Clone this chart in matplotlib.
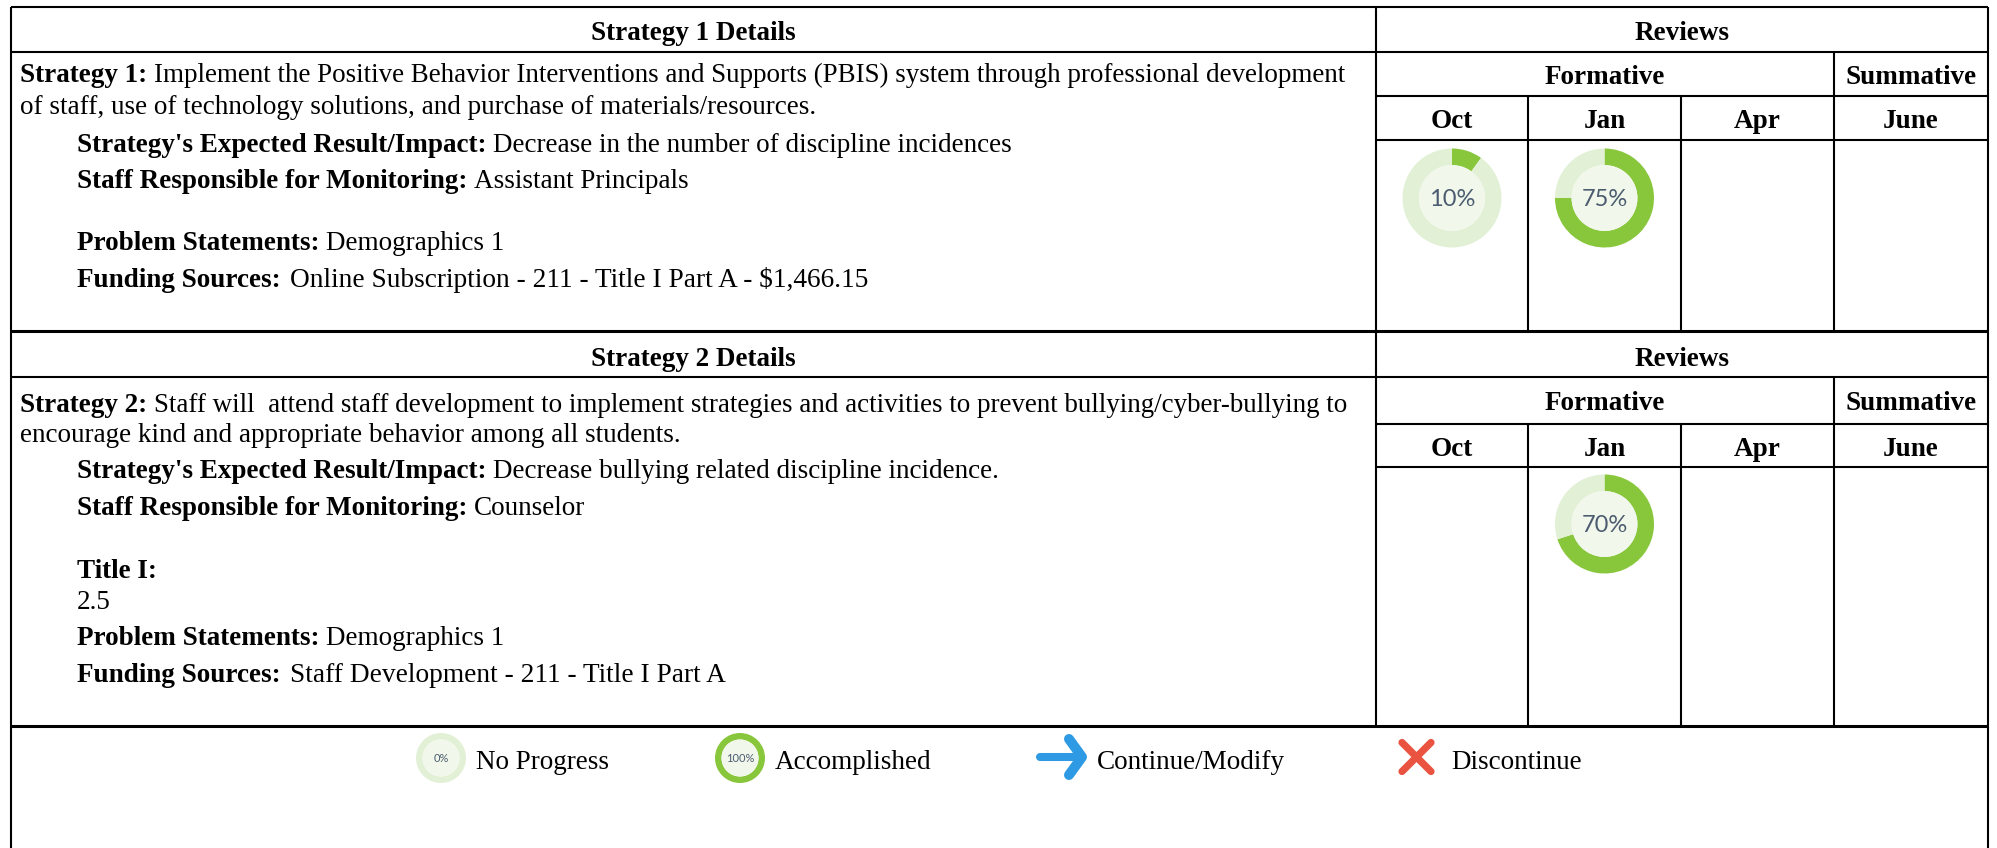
import matplotlib
matplotlib.use("Agg")
import matplotlib.pyplot as plt
from matplotlib.patches import Circle

W, H = 1997, 848
SERIF = "Liberation Serif"
FS = 19.5

# ---------- content ----------
months = ["Oct", "Jan", "Apr", "June"]
strategy_titles = ["Strategy 1 Details", "Strategy 2 Details"]
review_labels = ["Reviews", "Formative", "Summative"]
progress_1 = {"Oct": 10, "Jan": 75}
progress_2 = {"Jan": 70}
legend_labels = ["No Progress", "Accomplished", "Continue/Modify", "Discontinue"]
legend_values = [0, 100]

lines_1 = [
    ("Strategy 1:", " Implement the Positive Behavior Interventions and Supports (PBIS) system through professional development"),
    ("", "of staff, use of technology solutions, and purchase of materials/resources."),
    ("Strategy's Expected Result/Impact:", " Decrease in the number of discipline incidences"),
    ("Staff Responsible for Monitoring:", " Assistant Principals"),
    ("Problem Statements:", " Demographics 1"),
    ("Funding Sources:", " Online Subscription - 211 - Title I Part A - $1,466.15"),
]
lines_2 = [
    ("Strategy 2:", " Staff will  attend staff development to implement strategies and activities to prevent bullying/cyber-bullying to"),
    ("", "encourage kind and appropriate behavior among all students."),
    ("Strategy's Expected Result/Impact:", " Decrease bullying related discipline incidence."),
    ("Staff Responsible for Monitoring:", " Counselor"),
    ("Title I:", ""),
    ("", "2.5"),
    ("Problem Statements:", " Demographics 1"),
    ("Funding Sources:", " Staff Development - 211 - Title I Part A"),
]

# ---------- layout (pixels) ----------
baselines_1 = [82, 114, 152, 188, 250, 287]
baselines_2 = [412, 442, 478, 515, 578, 609, 645, 682]
indents_1 = [20, 20, 77, 77, 77, 77]
indents_2 = [20, 20, 77, 77, 77, 77, 77, 77]
LEFT, RIGHT, TOP, BOTTOM = 11, 1988, 7, 848
COL = [1376, 1528, 1681, 1834, RIGHT]
BLOCKS = [(7, 52, 96, 140, 331), (333, 377, 424, 467, 726)]
GREEN, PALE, CORE = "#88c63c", "#e2f0d5", "#f1f7ea"
BLUE, RED = "#2e9ae4", "#e9533f"

fig = plt.figure(figsize=(W / 100, H / 100), dpi=100)
ax = fig.add_axes([0, 0, 1, 1])


def Y(p):
    return H - p


def hline(y, x0=LEFT, x1=RIGHT, lw=1.5):
    ax.plot([x0, x1], [Y(y), Y(y)], color="black", lw=lw, solid_capstyle="butt", zorder=5)


def vline(x, y0, y1, lw=1.5):
    ax.plot([x, x], [Y(y0), Y(y1)], color="black", lw=lw, solid_capstyle="butt", zorder=5)


def ctext(x, y, s, weight="bold", size=FS):
    ax.text(x, Y(y), s, family=SERIF, fontsize=size, weight=weight, ha="center", va="center", color="black")


def donut(cx, cy, r, value, label, fs, core=0.665, dy=0):
    ax.pie([value, 100 - value], colors=[GREEN, PALE], radius=r, center=(cx, Y(cy)),
           startangle=90, counterclock=False, wedgeprops=dict(width=r * (1 - core), linewidth=0))
    ax.add_patch(Circle((cx, Y(cy)), r * core, fc=CORE, ec="none", zorder=3))
    ax.text(cx, Y(cy + dy), label, family="Lato", fontsize=fs, color="#4c5c70", ha="center", va="center", zorder=4)


def rich_line(bold, regular, x, y):
    r = fig.canvas.get_renderer()
    size, gap = FS, 6.8
    if bold == "Funding Sources:":
        size, gap = 19.75, 9.5
    elif x == 20 and bold:
        size = 19.45
    if bold:
        t = ax.text(x, Y(y), bold, family=SERIF, fontsize=FS, weight="bold", va="baseline", color="black")
        x = t.get_window_extent(r).x1
    if regular:
        if regular.startswith(" "):
            x += gap
        ax.text(x, Y(y), regular.lstrip(" "), family=SERIF, fontsize=size, va="baseline", color="black")


# donuts first, because pie resets the limits
for prog, cy in zip([progress_1, progress_2], [198, 524]):
    for i, m in enumerate(months):
        if m in prog:
            donut((COL[i] + COL[i + 1]) / 2, cy, 49.5, prog[m], f"{prog[m]}%", 17, dy=2)

donut(441, 758, 25, legend_values[0], "0%", 8, core=0.74)
donut(740, 758, 25, legend_values[1], "100%", 8, core=0.74)

ax.set_xlim(0, W)
ax.set_ylim(0, H)
ax.set_aspect("auto")
ax.axis("off")
fig.canvas.draw()

# table rules
hline(7)
for title, (y0, y1, y2, y3, y4) in zip(strategy_titles, BLOCKS):
    hline(y1)
    hline(y2, COL[0], RIGHT)
    hline(y3, COL[0], RIGHT)
    hline(y4, lw=2.2)
    vline(COL[0], y0, y4)
    vline(COL[3], y1, y4)
    vline(COL[1], y2, y4)
    vline(COL[2], y2, y4)
    ctext((LEFT + COL[0]) / 2, (y0 + y1) / 2 + 4, title)
    ctext((COL[0] + RIGHT) / 2, (y0 + y1) / 2 + 4, review_labels[0])
    ctext((COL[0] + COL[3]) / 2, (y1 + y2) / 2 + 3.5, review_labels[1])
    ctext((COL[3] + RIGHT) / 2, (y1 + y2) / 2 + 3.5, review_labels[2])
    for i, m in enumerate(months):
        ctext((COL[i] + COL[i + 1]) / 2, (y2 + y3) / 2 + 4, m)
vline(LEFT, TOP, BOTTOM)
vline(RIGHT, TOP, BOTTOM)

for (b, r_), x, y in zip(lines_1 + lines_2, indents_1 + indents_2, baselines_1 + baselines_2):
    rich_line(b, r_, x, y)

# legend
arrow_y, cross_y = Y(757), Y(757)
ax.plot([1040, 1082], [arrow_y, arrow_y], color=BLUE, lw=5.8, solid_capstyle="round", zorder=4)
ax.plot([1069, 1082, 1069], [Y(739), arrow_y, Y(775)], color=BLUE, lw=7.2,
        solid_capstyle="round", solid_joinstyle="round", zorder=4)
for sgn in (1, -1):
    ax.plot([1402, 1431], [cross_y + sgn * 14.5, cross_y - sgn * 14.5], color=RED, lw=5.2,
            solid_capstyle="round", zorder=4)

for x, s in zip([476, 775, 1097, 1451], legend_labels):
    ax.text(x, Y(769), s, family=SERIF, fontsize=FS, va="baseline", color="black")

fig.savefig("out.png", dpi=100, facecolor="white")
